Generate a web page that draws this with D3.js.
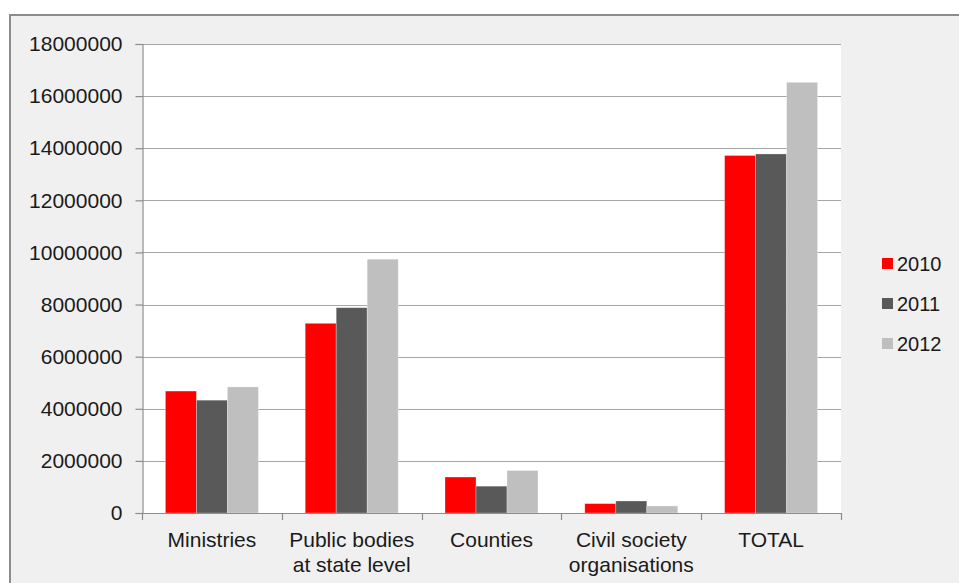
<!DOCTYPE html>
<html>
<head>
<meta charset="utf-8">
<script src="https://cdn.jsdelivr.net/npm/d3@7"></script>
<style>
  html, body { margin: 0; padding: 0; background: #ffffff; }
  svg { display: block; }
  text { font-family: "Liberation Sans", Arial, sans-serif; fill: #1a1a1a; }
</style>
</head>
<body>
<svg id="chart" width="959" height="583"></svg>
<script>
// Funding by recipient type, 2010–2012
const categories = [
  ["Ministries"],
  ["Public bodies", "at state level"],
  ["Counties"],
  ["Civil society", "organisations"],
  ["TOTAL"]
];
const years = ["2010", "2011", "2012"];
const values2010 = [4680000, 7280000, 1380000, 360000, 13720000];
const values2011 = [4330000, 7880000, 1030000, 460000, 13780000];
const values2012 = [4840000, 9740000, 1630000, 270000, 16530000];
const yTicks = [0, 2000000, 4000000, 6000000, 8000000, 10000000, 12000000, 14000000, 16000000, 18000000];
const colors = ["#ff0000", "#595959", "#bfbfbf"];

const series = [values2010, values2011, values2012];
const catKeys = categories.map(c => c.join(" "));

const svg = d3.select("#chart");

// outer frame
svg.append("rect")
  .attr("x", 10).attr("y", 15)
  .attr("width", 1000).attr("height", 700)
  .attr("fill", "#f0f0f0")
  .attr("stroke", "#8c8c8c")
  .attr("stroke-width", 2);

const plot = { left: 142, right: 841, top: 44, bottom: 513 };

// plot background
svg.append("rect")
  .attr("x", plot.left).attr("y", plot.top)
  .attr("width", plot.right - plot.left).attr("height", plot.bottom - plot.top)
  .attr("fill", "#ffffff");

const y = d3.scaleLinear().domain([0, 18000000]).range([plot.bottom, plot.top]);
const x0 = d3.scaleBand().domain(catKeys).range([plot.left, plot.right])
  .paddingInner(0.335).paddingOuter(0.1675);
const x1 = d3.scaleBand().domain(years).range([0, x0.bandwidth()]).padding(0);

// gridlines
svg.append("g")
  .selectAll("line")
  .data(yTicks.filter(t => t > 0))
  .join("line")
  .attr("x1", plot.left).attr("x2", plot.right)
  .attr("y1", d => Math.round(y(d)) + 0.5).attr("y2", d => Math.round(y(d)) + 0.5)
  .attr("stroke", "#a6a6a6")
  .attr("stroke-width", 1.2);

// bars
const groups = svg.append("g")
  .selectAll("g")
  .data(catKeys)
  .join("g")
  .attr("transform", d => `translate(${x0(d)},0)`);

groups.selectAll("rect")
  .data((d, i) => years.map((yr, j) => ({ yr, v: series[j][i], c: colors[j] })))
  .join("rect")
  .attr("x", d => x1(d.yr))
  .attr("y", d => y(d.v))
  .attr("width", x1.bandwidth())
  .attr("height", d => y(0) - y(d.v))
  .attr("fill", d => d.c)
  .attr("stroke", "rgba(255,255,255,0.35)")
  .attr("stroke-width", 0.8);

// y axis
const yAxis = d3.axisLeft(y).tickValues(yTicks).tickFormat(d3.format("d")).tickSize(7).tickPadding(13);
const gy = svg.append("g")
  .attr("transform", `translate(${plot.left + 0.5},0)`)
  .call(yAxis);
gy.select(".domain").attr("stroke", "#8c8c8c").attr("stroke-width", 1.2);
gy.selectAll(".tick line").attr("stroke", "#8c8c8c").attr("stroke-width", 1.2);
gy.selectAll(".tick text")
  .attr("font-size", 21)
  .attr("font-family", "'Liberation Sans', Arial, sans-serif")
  .attr("fill", "#1a1a1a");

// x axis baseline and tick marks at band boundaries
const xBounds = catKeys.map(k => x0(k) - x0.step() * x0.paddingInner() / 2).concat([plot.right]);
const gx = svg.append("g");
gx.append("line")
  .attr("x1", plot.left).attr("x2", plot.right)
  .attr("y1", plot.bottom + 0.5).attr("y2", plot.bottom + 0.5)
  .attr("stroke", "#8c8c8c").attr("stroke-width", 1.2);
gx.selectAll("line.tk")
  .data(xBounds)
  .join("line")
  .attr("class", "tk")
  .attr("x1", d => Math.round(d) + 0.5).attr("x2", d => Math.round(d) + 0.5)
  .attr("y1", plot.bottom).attr("y2", plot.bottom + 7)
  .attr("stroke", "#8c8c8c").attr("stroke-width", 1.2);

// category labels
const labels = svg.append("g")
  .selectAll("text")
  .data(categories)
  .join("text")
  .attr("text-anchor", "middle")
  .attr("font-size", 21)
  .attr("transform", (d, i) => `translate(${x0(catKeys[i]) + x0.bandwidth() / 2},547)`);
labels.selectAll("tspan")
  .data(d => d)
  .join("tspan")
  .attr("x", 0)
  .attr("y", (d, i) => i * 25)
  .text(d => d);

// legend
const legend = svg.append("g")
  .selectAll("g")
  .data(years)
  .join("g")
  .attr("transform", (d, i) => `translate(882,${258 + i * 40})`);
legend.append("rect")
  .attr("width", 11).attr("height", 11)
  .attr("fill", (d, i) => colors[i]);
legend.append("text")
  .attr("x", 15).attr("y", 12.5)
  .attr("font-size", 20)
  .text(d => d);
</script>
</body>
</html>
